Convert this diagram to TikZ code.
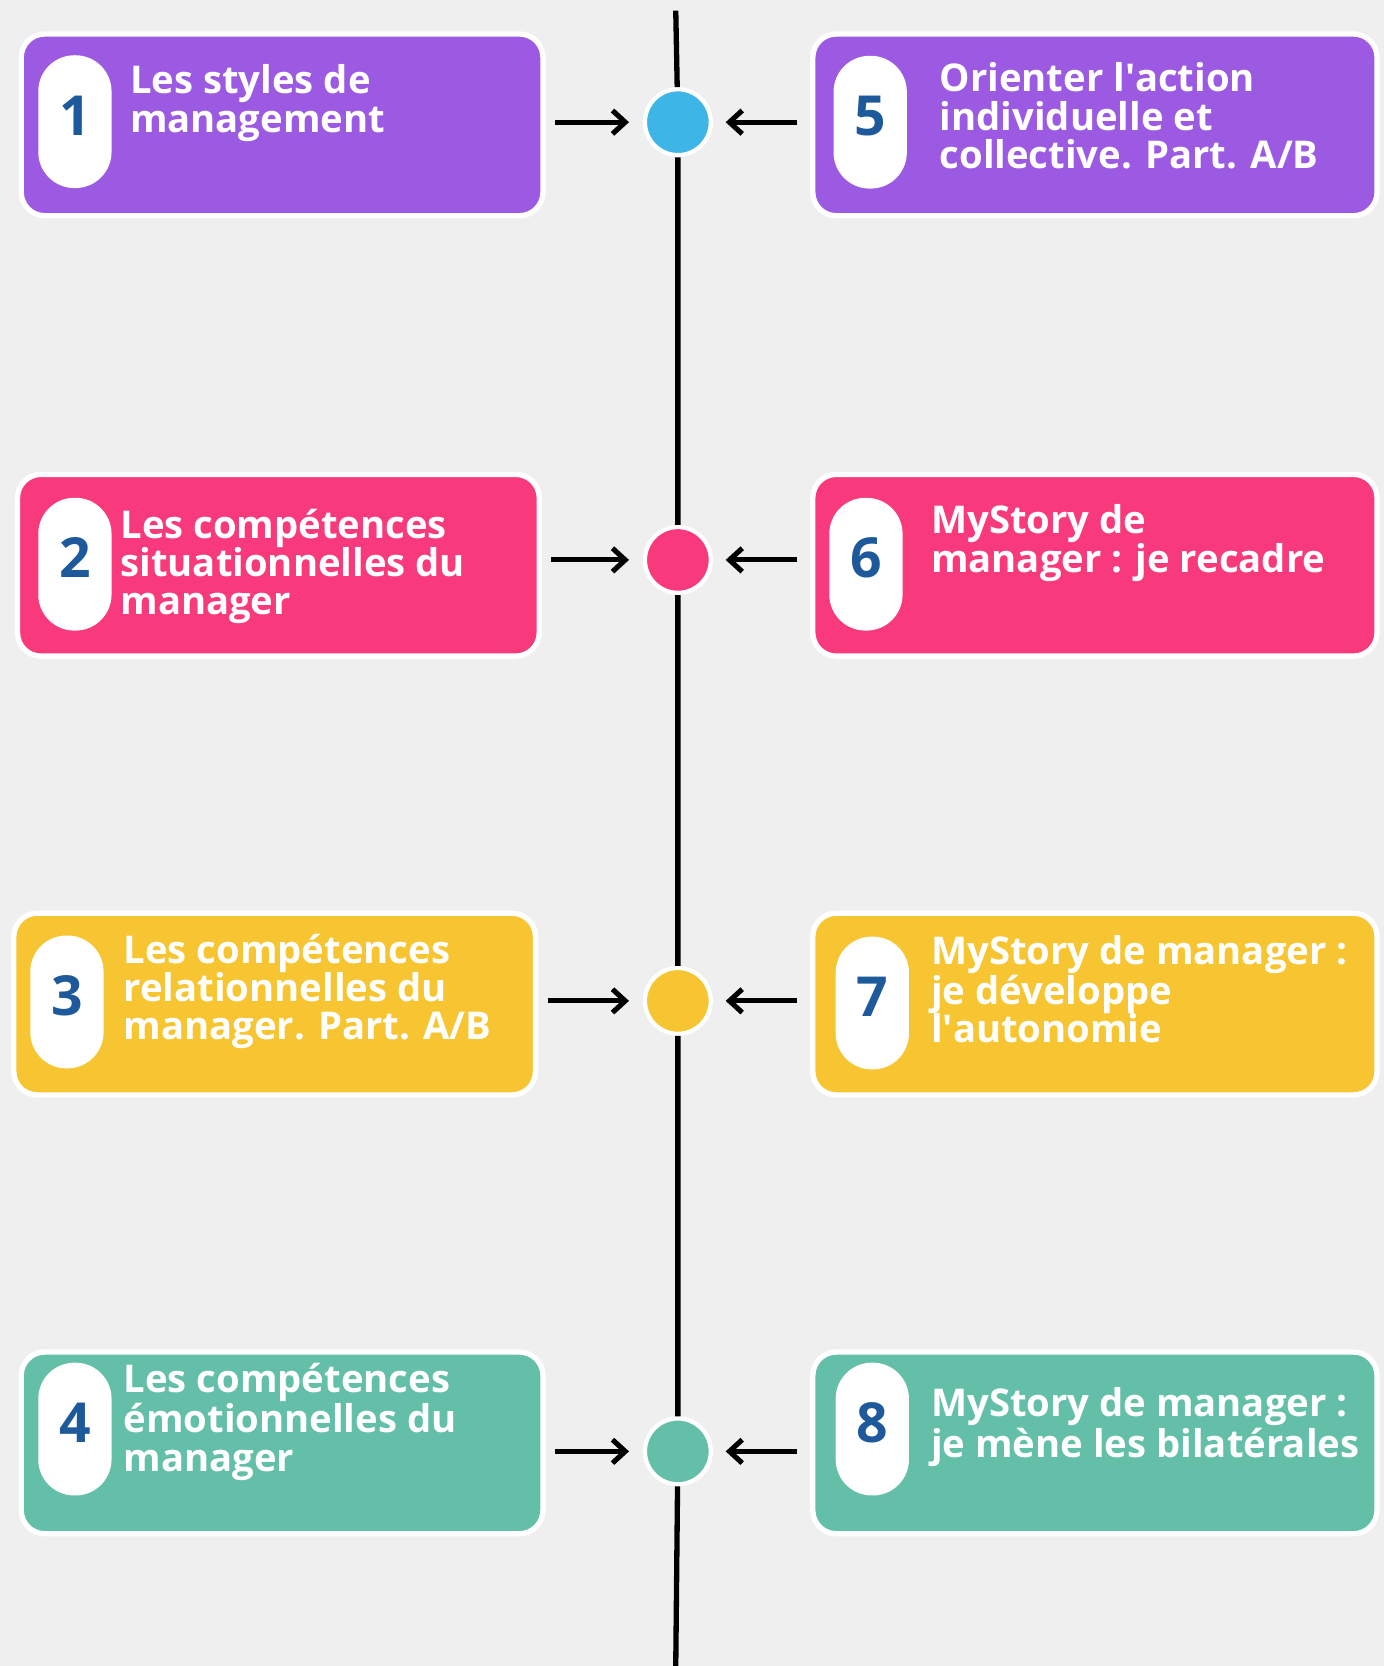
\documentclass[tikz,border=0pt]{standalone}
\usepackage{fontspec}
\setmainfont{Open Sans}
\usetikzlibrary{arrows.meta,calc}
\definecolor{bg}{HTML}{EFEFEF}
\definecolor{cpurple}{HTML}{9C5AE2}
\definecolor{cblue}{HTML}{3DB5E6}
\definecolor{cpink}{HTML}{F8397C}
\definecolor{cyellow}{HTML}{F7C531}
\definecolor{cteal}{HTML}{64BFA9}
\definecolor{numblue}{HTML}{1E5A9B}
\begin{document}
\begin{tikzpicture}[x=0.5pt,y=-0.5pt,
  cardL/.style={draw=white, line width=2.5pt, rounded corners=11pt, minimum width=245.5pt, minimum height=85.5pt, inner sep=0pt},
  cardR/.style={draw=white, line width=2.5pt, rounded corners=11pt, minimum width=265.5pt, minimum height=85.5pt, inner sep=0pt},
  pill/.style={fill=white, rounded corners=17pt, minimum width=34.5pt, minimum height=62.5pt, inner sep=0pt, text depth=6pt, text=numblue, font=\bfseries\fontsize{26}{26}\selectfont},
  txt/.style={text=white, font=\bfseries\fontsize{18}{18}\selectfont, align=left, anchor=west, inner sep=0pt},
  dot/.style={circle, draw=white, line width=2pt, minimum size=31pt, inner sep=0pt},
  spine/.style={line width=2.5pt, black},
  arr/.style={-{Straight Barb[length=6pt,width=11pt]}, line width=2.4pt, black},
]
\fill[bg] (0,0) rectangle (1303,1568);
\useasboundingbox (0,0) rectangle (1303,1568);

% row 1
\node[cardL, fill=cpurple] (b1) at (265.5,117.5) {};
\node[pill] (p1) at (70.5,114.5) {1};
\node[txt] (t1) at (122,97) {Les styles de\\management};
\node[cardR, fill=cpurple] (b5) at (1030.5,117.5) {};
\node[pill] (p5) at (819,115) {5};
\node[txt] (t5) at (884,109) {Orienter l\textquotesingle action\\individuelle et\\collective. Part. A/B};
\node[dot, fill=cblue] (c1) at (638,115) {};

% row 2
\node[cardL, fill=cpink] (b2) at (262,532) {};
\node[pill] (p2) at (70.5,531) {2};
\node[txt] (t2) at (113,533) {Les compétences\\situationnelles du\\manager};
\node[cardR, fill=cpink] (b6) at (1030.5,532) {};
\node[pill] (p6) at (815,531) {6};
\node[txt] (t6) at (876,511) {MyStory de\\manager : je recadre};
\node[dot, fill=cpink] (c2) at (638,527) {};

% row 3
\node[cardL, fill=cyellow] (b3) at (258.5,945) {};
\node[pill] (p3) at (63,943) {3};
\node[txt] (t3) at (116,933) {Les compétences\\relationnelles du\\manager. Part. A/B};
\node[cardR, fill=cyellow] (b7) at (1030.5,945) {};
\node[pill] (p7) at (821,944) {7};
\node[txt] (t7) at (876,931) {MyStory de manager :\\je développe\\l\textquotesingle autonomie};
\node[dot, fill=cyellow] (c3) at (638,942) {};

% row 4
\node[cardL, fill=cteal] (b4) at (265.5,1358) {};
\node[pill] (p4) at (70.5,1345) {4};
\node[txt] (t4) at (116,1338) {Les compétences\\émotionnelles du\\manager};
\node[cardR, fill=cteal] (b8) at (1030.5,1358) {};
\node[pill] (p8) at (821,1345) {8};
\node[txt] (t8) at (876,1343) {MyStory de manager :\\je mène les bilatérales};
\node[dot, fill=cteal] (c4) at (638,1366) {};

% spine
\coordinate (top) at (636,10);
\coordinate (bot) at (636,1568);
\draw[spine] (top) -- (c1) -- (c2) -- (c3) -- (c4) -- (bot);

% arrows
\foreach \b/\c in {b1/c1,b2/c2,b3/c3,b4/c4}{
  \draw[arr, shorten <=4.5pt, shorten >=6.5pt] (\b.east |- \c) -- (\c.west);
}
\foreach \b/\c in {b5/c1,b6/c2,b7/c3,b8/c4}{
  \draw[arr, shorten <=6pt, shorten >=6pt] (\b.west |- \c) -- (\c.east);
}
\end{tikzpicture}
\end{document}
